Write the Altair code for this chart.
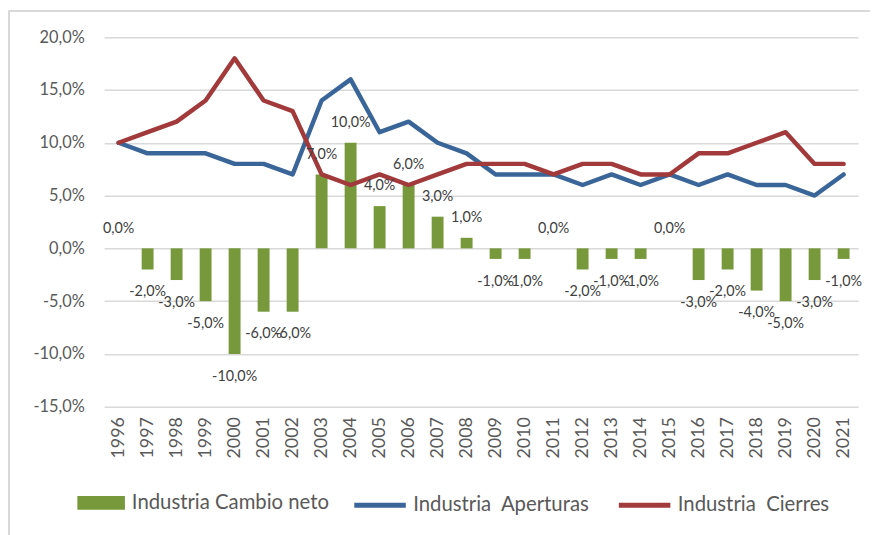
import altair as alt
import pandas as pd

years = [str(y) for y in range(1996, 2022)]
net = [0, -2, -3, -5, -10, -6, -6, 7, 10, 4, 6, 3, 1, -1, -1, 0, -2, -1, -1, 0, -3, -2, -4, -5, -3, -1]
aperturas = [10, 9, 9, 9, 8, 8, 7, 14, 16, 11, 12, 10, 9, 7, 7, 7, 6, 7, 6, 7, 6, 7, 6, 6, 5, 7]
cierres = [10, 11, 12, 14, 18, 14, 13, 7, 6, 7, 6, 7, 8, 8, 8, 7, 8, 8, 7, 7, 9, 9, 10, 11, 8, 8]

S_NET = "Industria Cambio neto"
S_AP = "Industria\u00a0 Aperturas"
S_CI = "Industria\u00a0 Cierres"

GREEN = "#77993B"
BLUE = "#3A6598"
RED = "#A2393A"
FONT = "Lato"

W, H = 761, 373

bars_df = pd.DataFrame({"year": years, "v": net, "series": S_NET})
lines_df = pd.DataFrame(
    {
        "year": years * 2,
        "v": aperturas + cierres,
        "series": [S_AP] * len(years) + [S_CI] * len(years),
    }
)

fmt = "(datum.v < 0 ? '-' : '') + replace(format(abs(datum.v), '.1f'), '.', ',') + '%'"
axis_fmt = "(datum.value < 0 ? '-' : '') + replace(format(abs(datum.value), '.1f'), '.', ',') + '%'"

xscale = alt.Scale(paddingInner=0.59, paddingOuter=0.295)
x = alt.X(
    "year:O",
    scale=xscale,
    sort=years,
    axis=alt.Axis(
        title=None, labelAngle=-90, domain=False, ticks=False, labelPadding=10,
        labelFont=FONT, labelFontSize=18, labelColor="#595959",
    ),
)
yscale = alt.Scale(domain=[-15, 20], nice=False, zero=False)
y = alt.Y(
    "v:Q",
    scale=yscale,
    axis=alt.Axis(
        title=None, values=[-15, -10, -5, 0, 5, 10, 15, 20], labelExpr=axis_fmt,
        domain=False, ticks=False, grid=True, gridColor="#D9D9D9", gridWidth=1.5,
        labelFont=FONT, labelFontSize=16.5, labelColor="#595959", labelPadding=20,
    ),
)

frame = alt.Chart(bars_df).mark_rect(
    fill=None, stroke="#D9D9D9", strokeWidth=2, clip=False
).encode(
    x=alt.value(-96.5), x2=alt.value(W + 40), y=alt.value(-26.5), y2=alt.value(H + 300)
)

bars = alt.Chart(bars_df).mark_bar().encode(
    x=x,
    y=y,
    fill=alt.Fill(
        "series:N",
        scale=alt.Scale(domain=[S_NET], range=[GREEN]),
        legend=alt.Legend(
            title=None, orient="none", legendX=-27, legendY=446, direction="horizontal",
            symbolType="M-1,-0.29L1,-0.29L1,0.29L-1,0.29Z", symbolSize=2304,
            symbolStrokeWidth=0, labelFont=FONT, labelFontSize=20.5, labelColor="#595959",
            labelOffset=7, labelLimit=0, padding=0,
        ),
    ),
)

lines = alt.Chart(lines_df).mark_line(strokeWidth=4.5, strokeJoin="round", strokeCap="round").encode(
    x=x,
    y=y,
    stroke=alt.Stroke(
        "series:N",
        scale=alt.Scale(domain=[S_AP, S_CI], range=[BLUE, RED]),
        legend=alt.Legend(
            title=None, orient="none", legendX=250, legendY=444, direction="horizontal",
            symbolType="stroke", symbolSize=2704, symbolStrokeWidth=5,
            labelFont=FONT, labelFontSize=20.5, labelColor="#595959", labelOffset=5,
            labelLimit=0, columnPadding=19, padding=0,
        ),
    ),
    detail="series:N",
)

base_text = alt.Chart(bars_df).transform_calculate(label=fmt)
text_pos = base_text.transform_filter("datum.v >= 0").mark_text(
    dy=-20, baseline="middle", font=FONT, fontSize=14.5, color="#404040"
).encode(x=x, y=y, text="label:N")
text_neg = base_text.transform_filter("datum.v < 0").mark_text(
    dy=23, baseline="middle", font=FONT, fontSize=14.5, color="#404040"
).encode(x=x, y=y, text="label:N")

chart = alt.layer(frame, bars, lines, text_pos, text_neg).resolve_scale(
    fill="independent", stroke="independent"
).properties(
    width=W,
    height=H,
    padding={"left": 97, "top": 27, "right": 12, "bottom": 127},
    autosize=alt.AutoSizeParams(type="none"),
).configure_view(stroke=None)

chart.save("out.html", embed_options={"renderer": "svg", "actions": False})
